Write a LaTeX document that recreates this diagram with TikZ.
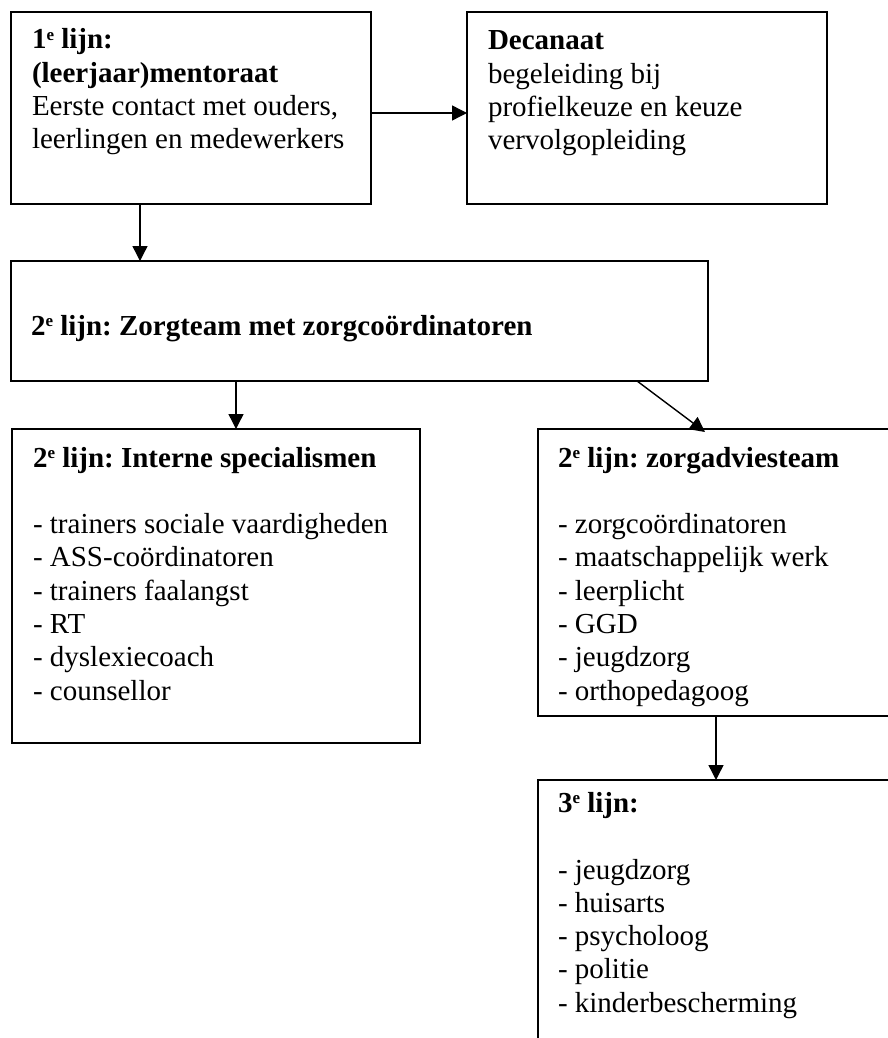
\documentclass[tikz,border=0pt]{standalone}
\usepackage{fontspec}
\setmainfont{Liberation Serif}
\usetikzlibrary{arrows.meta}
\newcommand\diasize{\fontsize{29}{33.3}\selectfont\frenchspacing}
\newcommand\supe{\raisebox{0.62ex}{\fontsize{17}{17}\selectfont e}}
\begin{document}
\begin{tikzpicture}[x=1pt,y=-1pt,
  box/.style={draw=black, line width=2.2pt, rectangle, anchor=north west, inner sep=0pt, outer sep=0pt},
  txt/.style={anchor=base west, inner sep=0pt, outer sep=0pt, font=\diasize},
  arr/.style={draw=black, line width=1.4pt, -{Triangle[length=15pt,width=15pt]}}]
\useasboundingbox (0,0) rectangle (888,1038);
\begin{scope}
\clip (0,0) rectangle (888,1038);
% boxes
\node[box, minimum width=360pt, minimum height=192pt] (b1) at (11,12) {};
\node[box, minimum width=360pt, minimum height=192pt] (dec) at (467,12) {};
\node[box, minimum width=697pt, minimum height=120pt] (b2) at (11,261) {};
\node[box, minimum width=408pt, minimum height=314pt] (int) at (12,429) {};
\node[box, minimum width=460pt, minimum height=287pt] (adv) at (538,429) {};
\node[box, minimum width=460pt, minimum height=330pt] (l3) at (538,780) {};

% box 1
\node[txt] (b1a) at (32,49) {\bfseries 1\supe{} lijn:};
\node[txt] (b1b) at (32,82.3) {\bfseries (leerjaar)mentoraat};
\node[txt] (b1c) at (32,115.6) {Eerste contact met ouders,};
\node[txt] (b1d) at (32,148.9) {leerlingen en medewerkers};
% decanaat
\node[txt] (deca) at (488,50) {\bfseries Decanaat};
\node[txt] (decb) at (488,83.3) {begeleiding bij};
\node[txt] (decc) at (488,116.6) {profielkeuze en keuze};
\node[txt] (decd) at (488,149.9) {vervolgopleiding};
% box 2
\node[txt] (b2a) at (31,335) {\bfseries 2\supe{} lijn: Zorgteam met zorgcoördinatoren};
% interne
\node[txt] (inth) at (33,467) {\bfseries 2\supe{} lijn: Interne specialismen};
\node[txt] (int1) at (33,533.6) {- trainers sociale vaardigheden};
\node[txt] (int2) at (33,566.9) {- ASS-coördinatoren};
\node[txt] (int3) at (33,600.2) {- trainers faalangst};
\node[txt] (int4) at (33,633.5) {- RT};
\node[txt] (int5) at (33,666.8) {- dyslexiecoach};
\node[txt] (int6) at (33,700.1) {- counsellor};
% zorgadviesteam
\node[txt] (advh) at (558,467) {\bfseries 2\supe{} lijn: zorgadviesteam};
\node[txt] (adv1) at (558,533.6) {- zorgcoördinatoren};
\node[txt] (adv2) at (558,566.9) {- maatschappelijk werk};
\node[txt] (adv3) at (558,600.2) {- leerplicht};
\node[txt] (adv4) at (558,633.5) {- GGD};
\node[txt] (adv5) at (558,666.8) {- jeugdzorg};
\node[txt] (adv6) at (558,700.1) {- orthopedagoog};
% 3e lijn
\node[txt] (l3h) at (558,812) {\bfseries 3\supe{} lijn:};
\node[txt] (l31) at (558,879) {- jeugdzorg};
\node[txt] (l32) at (558,912.3) {- huisarts};
\node[txt] (l33) at (558,945.6) {- psycholoog};
\node[txt] (l34) at (558,978.9) {- politie};
\node[txt] (l35) at (558,1012.2) {- kinderbescherming};

% connectors
\draw[arr] ([yshift=-5pt]b1.east) -- ([yshift=-5pt]dec.west);
\draw[arr] ([xshift=129pt]b1.south west) -- ([xshift=129pt]b2.north west);
\draw[arr] ([xshift=225pt]b2.south west) -- ([xshift=224pt]int.north west);
\draw[arr] ([xshift=626pt]b2.south west) -- ([xshift=167pt,yshift=-3pt]adv.north west);
\draw[arr] ([xshift=178pt]adv.south west) -- ([xshift=178pt]l3.north west);
\end{scope}
\end{tikzpicture}
\end{document}
